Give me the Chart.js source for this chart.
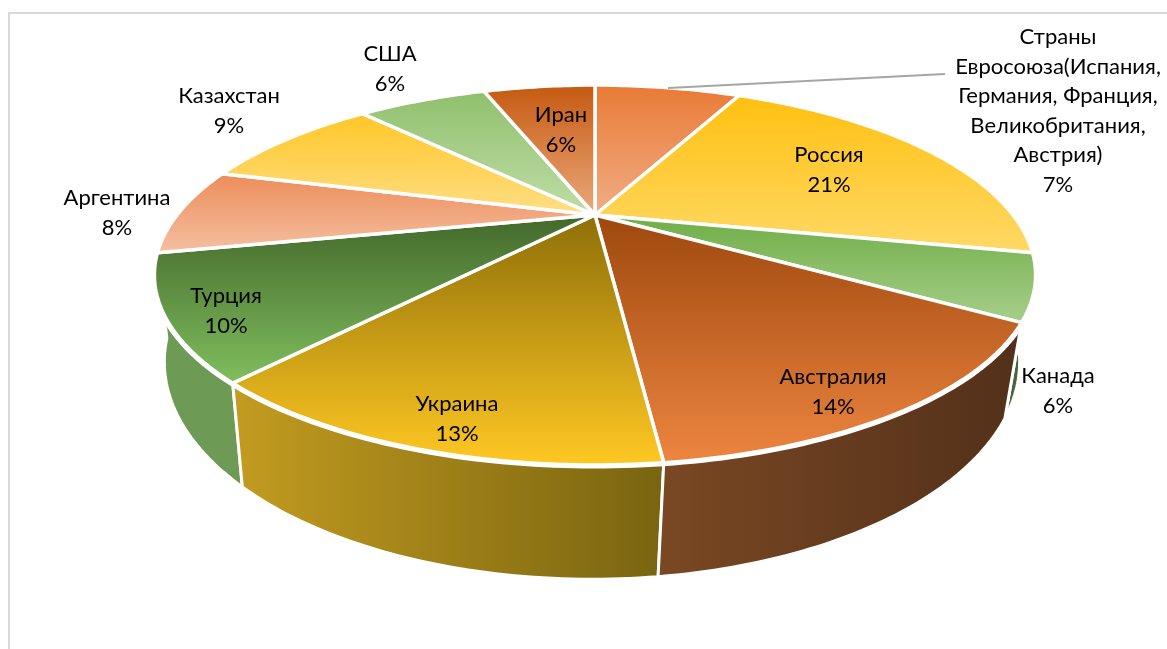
<!DOCTYPE html>
<html lang="ru">
<head>
<meta charset="utf-8">
<title>Pie</title>
<script src="https://cdn.jsdelivr.net/npm/chart.js@4"></script>
<style>
    html, body { margin: 0; padding: 0; background: #fff; }
    canvas { display: block; }
</style>
</head>
<body>
<canvas id="grafik" width="1167" height="649"></canvas>
<script>
// values, they round to the printed percents
const categories = [
    ['Страны', 'Евросоюза(Испания,', 'Германия, Франция,', 'Великобритания,', 'Австрия)'],
    ['Россия'], ['Канада'], ['Австралия'], ['Украина'],
    ['Турция'], ['Аргентина'], ['Казахстан'], ['США'], ['Иран']
];
const values = [7.3, 21, 5.5, 14.4, 13.3, 10.2, 7.5, 8.8, 6.4, 5.6];

// gradient ends of every slice, top to bottom
const warnaAtas = ['#E97A35', '#FFC010', '#70AD47', '#9E480E', '#8E6F08', '#43682B', '#ED8D5A', '#FFC727', '#8FC06C', '#C55A11'];
const warnaBawah = ['#F0AD85', '#FFD966', '#A6CF8A', '#ED8540', '#FFC823', '#80BE5E', '#F4BFA0', '#FFDE85', '#C0DDA8', '#ECA87C'];

// side wall gradient, left to right. Only the slices in front have one
const dindingKiri = { 2: '#4A6B3A', 3: '#7A4823', 4: '#C39C20', 5: '#6D9A55' };
const dindingKanan = { 2: '#3F5C32', 3: '#52301A', 4: '#796410', 5: '#6D9A55' };
const urutanDinding = [2, 5, 4, 3];

// label centres, first line baseline middle
const posisiLabel = [
    [1058, 37], [829, 155], [1058, 376], [833, 377], [457, 404],
    [226, 296], [117, 198], [229, 96], [390, 54], [561, 115]
];
const jarakBaris = 29.6;

// perspective of the top face and of the bottom face
const atas = { cx: 595, cy: 215, a: 418, b: 171, k: 0.316 };
const bawah = { cx: 592, cy: 295, a: 407, b: 197, k: 0.307 };

function proyeksi(p, sudut) {
    const X = Math.cos(sudut), Y = Math.sin(sudut);
    const d = 1 - p.k * Y;
    return [p.cx + p.a * X / d, p.cy + p.b * Y / d];
}

function titikBusur(p, awal, akhir) {
    const hasil = [];
    const n = Math.max(8, Math.ceil((akhir - awal) * 60));
    for (let i = 0; i <= n; i++) {
        hasil.push(proyeksi(p, awal + (akhir - awal) * i / n));
    }
    return hasil;
}

function jalur(ctx, titik, tutup) {
    ctx.beginPath();
    titik.forEach((t, i) => i ? ctx.lineTo(t[0], t[1]) : ctx.moveTo(t[0], t[1]));
    if (tutup) ctx.closePath();
}

const pie3d = {
    id: 'pie3d',
    beforeDraw(chart) {
        // thin frame of the pasted picture
        const ctx = chart.ctx;
        ctx.save();
        ctx.strokeStyle = '#D9D9D9';
        ctx.lineWidth = 2;
        ctx.beginPath();
        ctx.moveTo(9, 649);
        ctx.lineTo(9, 13);
        ctx.lineTo(1167, 13);
        ctx.stroke();
        ctx.restore();
    },
    beforeDatasetDraw(chart, args) {
        const ctx = chart.ctx;
        const arcs = args.meta.data;
        ctx.save();
        ctx.lineJoin = 'round';

        // walls first
        urutanDinding.forEach(i => {
            const arc = arcs[i];
            const up = titikBusur(atas, arc.startAngle, arc.endAngle);
            const down = titikBusur(bawah, arc.startAngle, arc.endAngle).reverse();
            const semua = up.concat(down);
            const xs = semua.map(t => t[0]);
            const g = ctx.createLinearGradient(Math.min(...xs), 0, Math.max(...xs), 0);
            g.addColorStop(0, dindingKiri[i]);
            g.addColorStop(1, dindingKanan[i]);
            jalur(ctx, semua, true);
            ctx.fillStyle = g;
            ctx.fill();
            ctx.strokeStyle = '#fff';
            ctx.lineWidth = 3;
            ctx.stroke();
            jalur(ctx, up, false);
            ctx.lineWidth = 7;
            ctx.stroke();
        });

        // top face
        arcs.forEach((arc, i) => {
            const titik = titikBusur(atas, arc.startAngle, arc.endAngle);
            titik.push([atas.cx, atas.cy]);
            const ys = titik.map(t => t[1]);
            const g = ctx.createLinearGradient(0, Math.min(...ys), 0, Math.max(...ys));
            g.addColorStop(0, warnaAtas[i]);
            g.addColorStop(1, warnaBawah[i]);
            jalur(ctx, titik, true);
            ctx.fillStyle = g;
            ctx.fill();
            ctx.strokeStyle = '#fff';
            ctx.lineWidth = 3.5;
            ctx.stroke();
        });
        ctx.restore();
        return false;
    },
    afterDatasetsDraw(chart) {
        const ctx = chart.ctx;
        ctx.save();
        // leader line of the first label
        ctx.strokeStyle = '#A6A6A6';
        ctx.lineWidth = 2;
        ctx.beginPath();
        ctx.moveTo(945, 74);
        ctx.lineTo(668, 88);
        ctx.stroke();

        ctx.fillStyle = '#000';
        ctx.font = "22px Lato, 'Open Sans', sans-serif";
        ctx.textAlign = 'center';
        ctx.textBaseline = 'middle';
        categories.forEach((baris, i) => {
            const [x, y] = posisiLabel[i];
            const semua = baris.concat(Math.round(values[i]) + '%');
            semua.forEach((teks, j) => ctx.fillText(teks, x, y + j * jarakBaris));
        });
        ctx.restore();
    }
};

new Chart(document.getElementById('grafik'), {
    type: 'pie',
    data: {
        labels: categories.map(b => b.join(' ')),
        datasets: [{ data: values }]
    },
    options: {
        responsive: false,
        animation: false,
        plugins: { legend: { display: false }, tooltip: { enabled: false } }
    },
    plugins: [pie3d]
});
</script>
</body>
</html>
